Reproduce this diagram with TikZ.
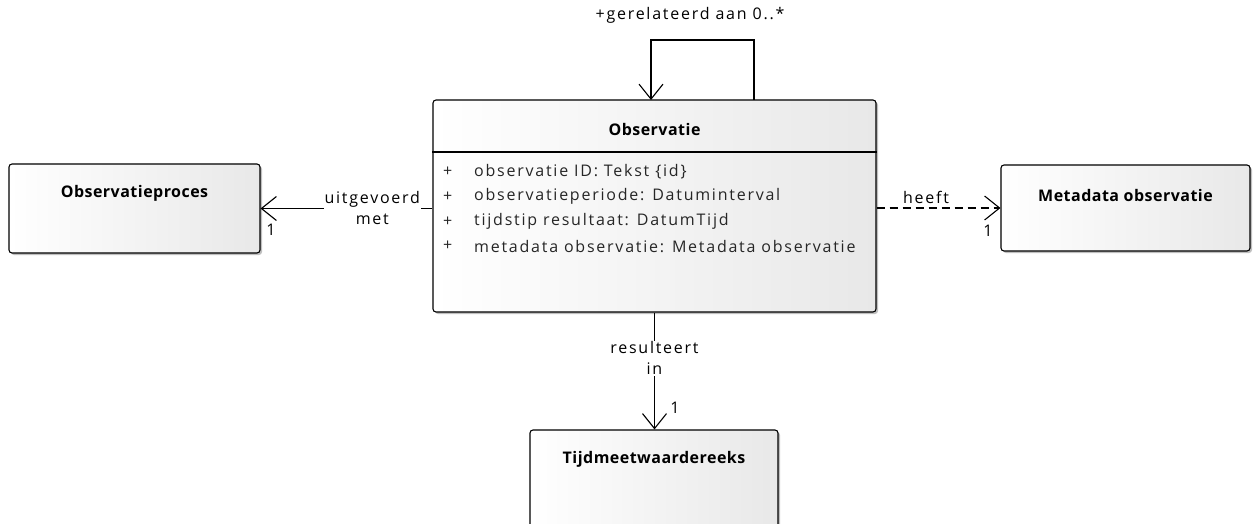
\documentclass[tikz,border=0pt]{standalone}
\usepackage{fontspec}
\setmainfont{Open Sans}
\newfontfamily\eafont[LetterSpace=11]{Open Sans}
\newfontfamily\eatitel[LetterSpace=3]{Open Sans}
\usetikzlibrary{arrows.meta,positioning,shadows}

\begin{document}
\begin{tikzpicture}[
        x=1pt, y=-1pt,
        klasse/.style={
            draw,
            line width=1.1pt,
            rounded corners=3pt,
            left color=white,
            right color=black!9,
            drop shadow={shadow xshift=2pt, shadow yshift=-2pt, opacity=0.25, fill=black},
            inner sep=0pt
        },
        titel/.style={font=\eatitel\fontsize{16}{18}\selectfont\bfseries},
        attr/.style={font=\eafont\fontsize{16}{18}\selectfont, text=black!85, anchor=west, inner sep=0pt},
        lbl/.style={font=\eafont\fontsize{16}{21}\selectfont, align=center},
        assoc/.style={line width=1.1pt, -{Straight Barb[length=15pt, width=24pt]}},
        afh/.style={assoc, dash pattern=on 8pt off 5pt}
    ]

    \useasboundingbox[fill=white] (0,0) rectangle (1254,524);

    % Klassen
    \node[klasse, minimum width=443, minimum height=212] (obs) at (654.5,206) {};
    \node[titel] (obstitel) at (654.5,130) {Observatie};
    \coordinate (kop) at (0,152);
    \draw[line width=1.1pt] (obs.west |- kop) -- (obs.east |- kop);
    \foreach \i/\t in {0/{observatie ID: Tekst \{id\}}, 1/{observatieperiode: Datuminterval},
                       2/{tijdstip resultaat: DatumTijd}, 3/{metadata observatie: Metadata observatie}} {
        \node[attr] (plus\i) at (443,172+24.7*\i) {+};
        \node[attr] (attr\i) at (474,172+24.7*\i) {\t};
    }

    \node[klasse, minimum width=251, minimum height=89] (proc) at (134.5,208.5) {};
    \node[titel] (proctitel) at (134.5,193) {Observatieproces};

    \node[klasse, minimum width=249, minimum height=86] (meta) at (1125.5,208) {};
    \node[titel] (metatitel) at (1125.5,196) {Metadata observatie};

    \node[klasse, minimum width=248, minimum height=100] (tijd) at (654,480) {};
    \node[titel] (tijdtitel) at (654,459) {Tijdmeetwaardereeks};

    % Verbindingen
    \draw[assoc] (obs.west |- proc.east) -- node[lbl, fill=white, inner sep=1pt, pos=0.35] (uitg) {uitgevoerd\\met} (proc.east);
    \node[lbl] (mult1) at (271,230) {1};

    \draw[afh] (obs.east |- meta.west) -- node[lbl, above, pos=0.4] (heeft) {heeft} (meta.west);
    \node[lbl] (mult2) at (988,231) {1};

    \draw[assoc] (obs.south) -- node[lbl, fill=white, inner sep=1pt, pos=0.39] (result) {resulteert\\in} (obs.south |- tijd.north);
    \node[lbl] (mult3) at (675,408) {1};

    % Zelfassociatie
    \coordinate (lusuit) at (754,100);
    \coordinate (lusin) at (651,100);
    \draw[assoc] (lusuit) -- ++(0,-60) -| (lusin);
    \node[lbl] (rol) at (690,15) {+gerelateerd aan 0..*};

\end{tikzpicture}
\end{document}
